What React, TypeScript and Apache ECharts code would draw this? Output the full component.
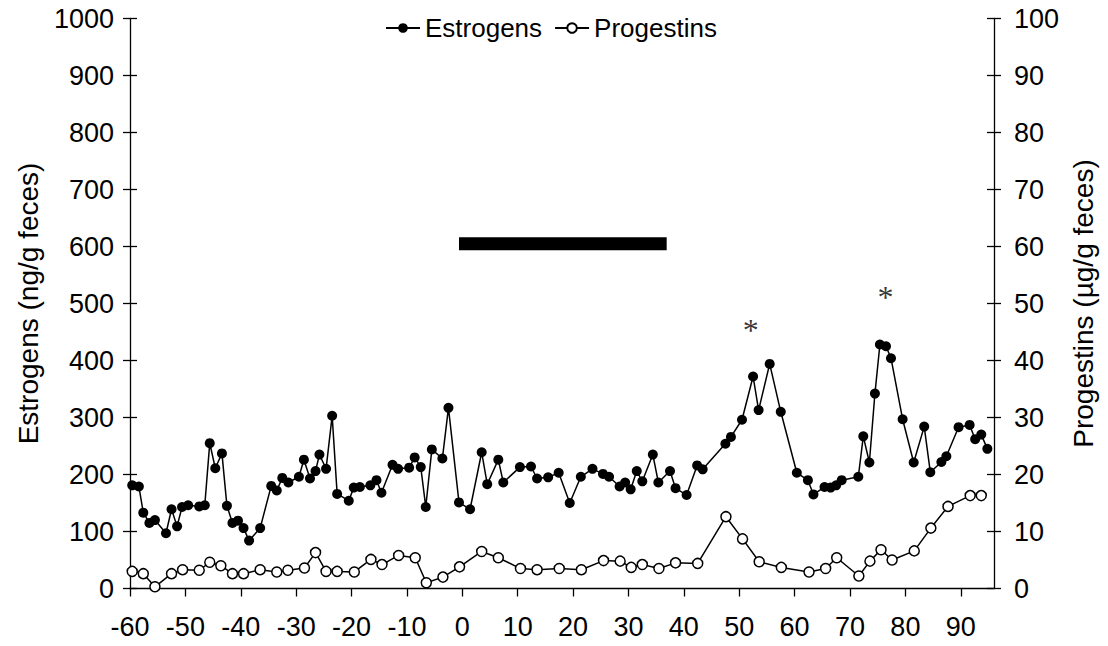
import React, { useEffect, useRef } from "react";
import * as echarts from "echarts";

const estrogenDays = [
  -59.6, -58.4, -57.6, -56.5, -55.5, -53.5, -52.5, -51.5, -50.6, -49.5, -47.5, -46.5, -45.6, -44.6, -43.4,
  -42.5, -41.5, -40.5, -39.5, -38.5, -36.5, -34.5, -33.5, -32.5, -31.4, -29.5, -28.6, -27.5, -26.5, -25.8,
  -24.6, -23.5, -22.6, -20.5, -19.6, -18.5, -16.6, -15.5, -14.6, -12.6, -11.6, -9.6, -8.6, -7.5, -6.6,
  -5.5, -3.6, -2.5, -0.6, 1.4, 3.5, 4.5, 6.5, 7.4, 10.4, 12.4, 13.5, 15.5, 17.4, 19.4,
  21.4, 23.5, 25.4, 26.5, 28.4, 29.4, 30.4, 31.5, 32.5, 34.4, 35.4, 37.5, 38.5, 40.5, 42.4,
  43.4, 47.5, 48.5, 50.5, 52.5, 53.5, 55.5, 57.5, 60.4, 62.4, 63.4, 65.4, 66.5, 67.5, 68.5,
  71.5, 72.4, 73.5, 74.5, 75.4, 76.5, 77.4, 79.5, 81.5, 83.4, 84.5, 86.5, 87.4, 89.6, 91.6,
  92.6, 93.7, 94.8,
];
const estrogenValues = [
  181, 179, 133, 115, 120, 97, 139, 109, 143, 146, 144, 146, 255, 211, 237,
  145, 115, 119, 106, 84, 106, 180, 172, 194, 186, 196, 226, 193, 206, 235,
  210, 303, 166, 154, 177, 178, 181, 190, 168, 217, 210, 212, 230, 213, 143,
  244, 228, 317, 151, 139, 239, 183, 226, 186, 213, 214, 193, 195, 203, 150,
  196, 210, 201, 196, 179, 186, 174, 206, 188, 235, 186, 206, 176, 164, 216,
  209, 254, 266, 296, 372, 313, 394, 310, 203, 190, 165, 178, 177, 181, 190,
  196, 267, 221, 342, 428, 425, 404, 297, 221, 284, 204, 222, 232, 283, 287,
  262, 270, 245,
];

const progestinDays = [
  -59.6, -57.6, -55.5, -52.5, -50.5, -47.5, -45.6, -43.6, -41.5, -39.5, -36.5, -33.5, -31.5, -28.5, -26.5,
  -24.6, -22.6, -19.5, -16.5, -14.5, -11.5, -8.5, -6.5, -3.5, -0.5, 3.5, 6.5, 10.5, 13.5, 17.5,
  21.5, 25.5, 28.5, 30.5, 32.5, 35.5, 38.5, 42.5, 47.6, 50.6, 53.6, 57.6, 62.6, 65.6, 67.6,
  71.6, 73.6, 75.6, 77.6, 81.6, 84.6, 87.7, 91.7, 93.7,
];
const progestinValues = [
  3.0, 2.6, 0.3, 2.6, 3.3, 3.2, 4.6, 4.0, 2.6, 2.6, 3.3, 2.9, 3.2, 3.6, 6.3,
  3.0, 3.0, 2.9, 5.1, 4.2, 5.8, 5.4, 1.0, 2.0, 3.8, 6.5, 5.4, 3.5, 3.3, 3.5,
  3.3, 4.9, 4.8, 3.7, 4.2, 3.5, 4.5, 4.4, 12.6, 8.7, 4.7, 3.7, 2.9, 3.5, 5.4,
  2.2, 4.8, 6.8, 5.0, 6.6, 10.6, 14.4, 16.3, 16.3,
];

const barDays = [-0.6, 36.9];
const barValue = 605;

const asteriskDays = [52.1, 76.4];
const asteriskValues = [453, 512];

const xTickValues = [-60, -50, -40, -30, -20, -10, 0, 10, 20, 30, 40, 50, 60, 70, 80, 90];

const FONT = "'Liberation Sans', Arial, sans-serif";

export default function App() {
  const ref = useRef<HTMLDivElement>(null);

  useEffect(() => {
    if (!ref.current) return;
    const chart = echarts.init(ref.current, undefined, { renderer: "svg" });

    const estrogenData = estrogenDays.map((d, i) => [d, estrogenValues[i]]);
    const progestinData = progestinDays.map((d, i) => [d, progestinValues[i]]);
    const barData = barDays.map((d) => [d, barValue]);
    const asteriskData = asteriskDays.map((d, i) => [d, asteriskValues[i]]);

    const labelStyle = { color: "#000", fontSize: 27, fontFamily: FONT };
    const nameStyle = { color: "#000", fontSize: 28, fontFamily: FONT };
    const tickLine = { color: "#000", width: 1.3 };
    const axisLine = { show: true, onZero: false, lineStyle: { color: "#000", width: 1.3 } };
    const plain = (v: number) => String(v);

    chart.setOption({
      animation: false,
      backgroundColor: "#fff",
      textStyle: { fontFamily: FONT, color: "#000" },
      grid: { left: 130, right: 114, top: 18.5, bottom: 57.5, containLabel: false },
      legend: {
        data: ["Estrogens", "Progestins"],
        left: 380,
        top: 10,
        itemWidth: 34,
        itemHeight: 12,
        itemGap: 12,
        textStyle: { color: "#000", fontSize: 26, fontFamily: FONT },
      },
      xAxis: {
        type: "value",
        min: -60,
        max: 96,
        interval: 10,
        axisLine,
        axisTick: { show: true, inside: false, length: 8, lineStyle: tickLine, customValues: xTickValues },
        axisLabel: { ...labelStyle, margin: 25, customValues: xTickValues, formatter: plain },
        splitLine: { show: false },
      },
      yAxis: [
        {
          type: "value",
          position: "left",
          min: 0,
          max: 1000,
          interval: 100,
          name: "Estrogens (ng/g feces)",
          nameLocation: "middle",
          nameGap: 88,
          nameTextStyle: { ...nameStyle },
          axisLine,
          axisTick: { show: true, inside: false, length: 7, lineStyle: tickLine },
          axisLabel: { ...labelStyle, margin: 16, formatter: plain },
          splitLine: { show: false },
        },
        {
          type: "value",
          position: "right",
          min: 0,
          max: 100,
          interval: 10,
          name: "Progestins (µg/g feces)",
          nameLocation: "middle",
          nameGap: 72,
          nameRotate: 90,
          nameTextStyle: { ...nameStyle },
          axisLine,
          axisTick: { show: true, inside: false, length: 7, lineStyle: tickLine },
          axisLabel: { ...labelStyle, margin: 20, formatter: plain },
          splitLine: { show: false },
        },
        {
          type: "value",
          position: "left",
          min: 0,
          max: 1000,
          interval: 100,
          axisLine: { show: false, onZero: false },
          axisTick: { show: true, inside: true, length: 7, lineStyle: tickLine },
          axisLabel: { show: false },
          splitLine: { show: false },
        },
        {
          type: "value",
          position: "right",
          min: 0,
          max: 100,
          interval: 10,
          axisLine: { show: false, onZero: false },
          axisTick: { show: true, inside: true, length: 7, lineStyle: tickLine },
          axisLabel: { show: false },
          splitLine: { show: false },
        },
      ],
      series: [
        {
          name: "Estrogens",
          type: "line",
          yAxisIndex: 0,
          data: estrogenData,
          symbol: "circle",
          symbolSize: 10,
          showAllSymbol: true,
          itemStyle: { color: "#000", borderColor: "#000", borderWidth: 0 },
          lineStyle: { color: "#000", width: 1.5 },
          z: 3,
        },
        {
          name: "Progestins",
          type: "line",
          yAxisIndex: 1,
          data: progestinData,
          symbol: "circle",
          symbolSize: 10,
          showAllSymbol: true,
          itemStyle: { color: "#fff", borderColor: "#000", borderWidth: 1.5 },
          lineStyle: { color: "#000", width: 1.5 },
          z: 3,
        },
        {
          name: "bar",
          type: "line",
          yAxisIndex: 0,
          data: barData,
          symbol: "none",
          lineStyle: { color: "#000", width: 13, cap: "butt" },
          z: 2,
        },
        {
          name: "significance",
          type: "scatter",
          yAxisIndex: 0,
          data: asteriskData,
          symbolSize: 1,
          itemStyle: { color: "transparent" },
          label: {
            show: true,
            position: "inside",
            formatter: "*",
            color: "#000",
            fontSize: 32,
            fontFamily: "'Liberation Serif', 'Times New Roman', serif",
          },
          z: 4,
        },
      ],
    });

    return () => chart.dispose();
  }, []);

  return (
    <div
      ref={ref}
      style={{ position: "fixed", left: 0, top: 0, width: 1108, height: 646, background: "#fff" }}
    />
  );
}
